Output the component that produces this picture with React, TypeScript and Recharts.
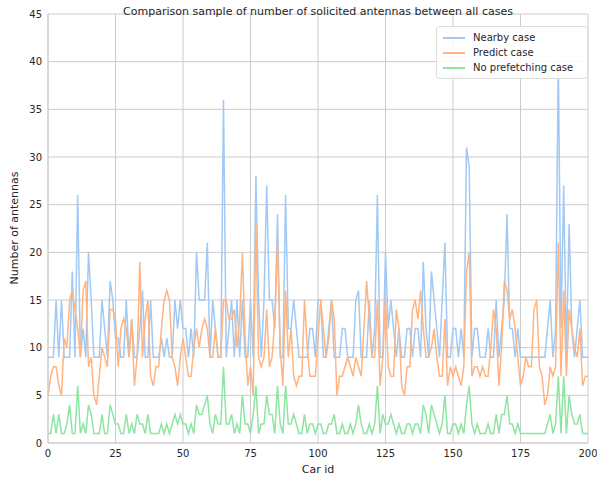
import { LineChart, Line, XAxis, YAxis, CartesianGrid } from "recharts";

// one value per car id, 0..200
const nearby = [
  9, 9, 9, 15, 9, 15, 9, 9, 9, 18,
  9, 26, 9, 12, 9, 20, 15, 9, 9, 9,
  15, 12, 9, 17, 15, 11, 11, 9, 9, 15,
  9, 13, 9, 9, 12, 16, 9, 9, 15, 9,
  9, 9, 11, 9, 11, 9, 9, 15, 12, 15,
  12, 12, 9, 12, 9, 20, 15, 15, 15, 21,
  9, 15, 12, 9, 9, 36, 9, 12, 15, 9,
  15, 9, 15, 9, 9, 15, 9, 28, 15, 9,
  15, 27, 15, 15, 12, 24, 9, 9, 26, 12,
  12, 15, 12, 9, 9, 9, 9, 12, 12, 9,
  15, 15, 9, 9, 12, 15, 9, 9, 9, 12,
  12, 9, 9, 9, 15, 16, 9, 9, 9, 15,
  9, 12, 26, 9, 9, 20, 12, 15, 12, 9,
  12, 9, 9, 12, 12, 9, 12, 12, 9, 19,
  12, 9, 18, 15, 12, 9, 15, 21, 9, 9,
  12, 12, 9, 12, 9, 31, 29, 9, 12, 12,
  9, 9, 9, 12, 9, 9, 15, 9, 12, 15,
  24, 12, 12, 9, 12, 9, 9, 9, 9, 9,
  9, 9, 9, 9, 9, 12, 15, 9, 12, 40,
  12, 27, 9, 23, 12, 9, 12, 15, 9, 9,
  9,
];

const predict = [
  5, 7, 8, 8, 6, 5, 11, 10, 15, 16,
  14, 12, 9, 16, 17, 8, 9, 5, 4, 7,
  10, 9, 8, 14, 14, 13, 8, 12, 13, 12,
  9, 13, 6, 9, 19, 9, 13, 15, 7, 6,
  8, 8, 12, 15, 16, 15, 9, 8, 6, 9,
  11, 9, 7, 7, 10, 12, 10, 12, 13, 12,
  9, 9, 12, 9, 9, 15, 15, 13, 13, 14,
  10, 13, 20, 11, 6, 8, 5, 23, 9, 8,
  9, 14, 8, 9, 13, 21, 10, 6, 16, 9,
  12, 7, 6, 7, 7, 15, 10, 7, 7, 7,
  11, 15, 12, 9, 11, 15, 13, 5, 7, 7,
  8, 9, 8, 7, 9, 8, 7, 12, 17, 13,
  9, 9, 15, 6, 9, 15, 8, 7, 7, 14,
  12, 6, 5, 8, 8, 14, 15, 13, 16, 12,
  9, 9, 10, 12, 9, 7, 7, 13, 6, 8,
  7, 8, 7, 6, 8, 18, 20, 7, 8, 8,
  7, 8, 7, 7, 10, 14, 12, 6, 10, 17,
  16, 13, 14, 12, 9, 6, 7, 9, 8, 8,
  14, 15, 8, 7, 4, 5, 8, 7, 8, 21,
  7, 16, 7, 14, 12, 10, 9, 12, 6, 7,
  7,
];

const noPrefetch = [
  1, 1, 3, 1, 3, 1, 1, 2, 4, 1,
  1, 6, 1, 2, 1, 4, 3, 1, 1, 1,
  3, 1, 1, 4, 3, 2, 2, 1, 1, 3,
  1, 2, 1, 3, 2, 2, 1, 3, 1, 1,
  1, 1, 2, 1, 2, 1, 2, 3, 2, 3,
  2, 2, 1, 2, 1, 4, 3, 3, 4, 5,
  2, 1, 3, 2, 2, 8, 2, 2, 3, 1,
  2, 1, 5, 2, 2, 1, 3, 6, 1, 2,
  2, 5, 3, 3, 1, 6, 2, 1, 6, 2,
  2, 3, 2, 1, 1, 3, 1, 2, 2, 1,
  2, 2, 1, 1, 2, 2, 3, 1, 1, 2,
  1, 1, 2, 1, 2, 4, 2, 1, 1, 2,
  1, 2, 6, 1, 3, 2, 2, 3, 2, 1,
  2, 1, 1, 2, 2, 1, 2, 2, 1, 4,
  3, 1, 4, 3, 2, 1, 2, 5, 1, 1,
  2, 2, 1, 2, 1, 4, 6, 2, 1, 2,
  1, 1, 1, 2, 1, 1, 3, 1, 3, 3,
  5, 2, 2, 1, 2, 1, 1, 1, 1, 1,
  1, 1, 1, 1, 1, 2, 3, 1, 2, 7,
  1, 7, 1, 5, 3, 2, 2, 3, 1, 1,
  1,
];

const xTicks = [0, 25, 50, 75, 100, 125, 150, 175, 200];
const yTicks = [0, 5, 10, 15, 20, 25, 30, 35, 40, 45];

const series = [
  { key: "nearby", name: "Nearby case", color: "#a1c9f4" },
  { key: "predict", name: "Predict case", color: "#ffb482" },
  { key: "noPrefetch", name: "No prefetching case", color: "#8de5a1" },
];

const data = nearby.map((v, i) => ({
  car: i,
  nearby: v,
  predict: predict[i],
  noPrefetch: noPrefetch[i],
}));

const font = "'DejaVu Sans', sans-serif";
const tickStyle = { fontSize: 10, fill: "#262626", fontFamily: font };

export default function App() {
  return (
    <div style={{ position: "fixed", left: 0, top: 0, width: 597, height: 483, background: "#fff", fontFamily: font, color: "#262626" }}>
      <LineChart width={597} height={483} data={data} margin={{ top: 14, right: 9, left: 0, bottom: 0 }}>
        <CartesianGrid stroke="#cccccc" strokeWidth={1} />
        <XAxis
          dataKey="car"
          type="number"
          domain={[0, 200]}
          ticks={xTicks}
          height={40}
          tickLine={false}
          tickSize={0}
          tickMargin={7}
          axisLine={{ stroke: "#cccccc" }}
          tick={tickStyle}
        />
        <YAxis
          type="number"
          domain={[0, 45]}
          ticks={yTicks}
          width={48}
          tickLine={false}
          tickSize={0}
          tickMargin={6}
          axisLine={{ stroke: "#cccccc" }}
          tick={tickStyle}
        />
        {series.map((s) => (
          <Line
            key={s.key}
            dataKey={s.key}
            name={s.name}
            type="linear"
            stroke={s.color}
            strokeWidth={1.5}
            dot={false}
            isAnimationActive={false}
          />
        ))}
      </LineChart>

      <div style={{ position: "absolute", left: 48, width: 540, top: 5, textAlign: "center", fontSize: 11 }}>
        Comparison sample of number of solicited antennas between all cases
      </div>
      <div style={{ position: "absolute", left: 48, width: 540, top: 463, textAlign: "center", fontSize: 11 }}>
        Car id
      </div>
      <div
        style={{
          position: "absolute", left: 14, top: 228, fontSize: 11, whiteSpace: "nowrap",
          transform: "translate(-50%, -50%) rotate(-90deg)",
        }}
      >
        Number of antennas
      </div>

      <div
        style={{
          position: "absolute", left: 436, top: 26, width: 150, padding: "3px 0 3px 0",
          background: "rgba(255,255,255,0.85)", border: "1px solid #dddddd", borderRadius: 3,
          fontSize: 10,
        }}
      >
        {series.map((s) => (
          <div key={s.key} style={{ display: "flex", alignItems: "center", height: 15 }}>
            <span style={{ display: "inline-block", width: 22, height: 2, background: s.color, margin: "0 8px 0 6px" }} />
            <span>{s.name}</span>
          </div>
        ))}
      </div>
    </div>
  );
}
